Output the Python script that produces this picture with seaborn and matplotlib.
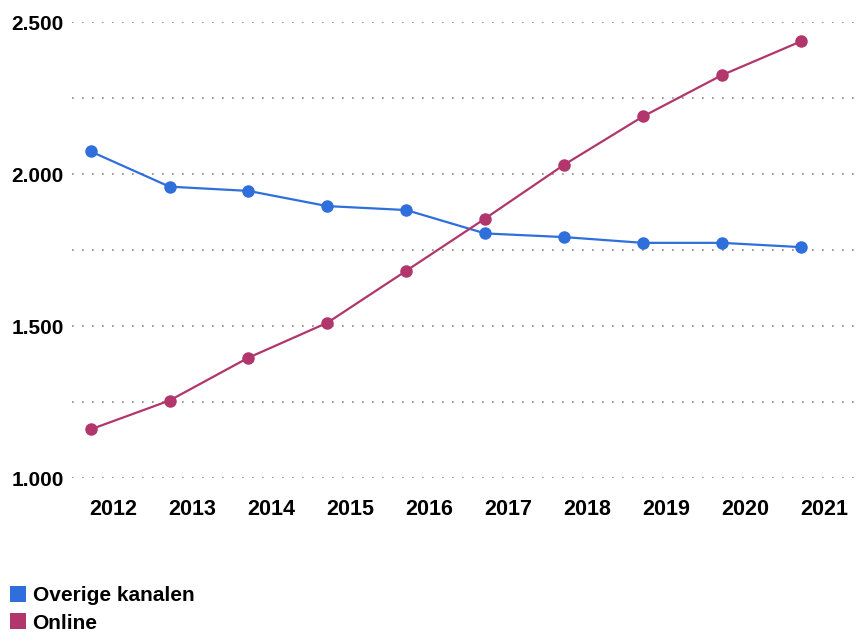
import matplotlib
matplotlib.use("Agg")
import matplotlib.pyplot as plt
import matplotlib.transforms as mtransforms
from matplotlib.lines import Line2D
import pandas as pd
import seaborn as sns

# values
years = [2012, 2013, 2014, 2015, 2016, 2017, 2018, 2019, 2020, 2021]
overige = [2075, 1959, 1945, 1895, 1882, 1805, 1793, 1774, 1774, 1760]
online = [1160, 1255, 1396, 1511, 1682, 1854, 2031, 2190, 2326, 2437]
series_names = ["Overige kanalen", "Online"]
colors = {"Overige kanalen": "#2F6FDB", "Online": "#B0366B"}
y_ticks = [1000, 1250, 1500, 1750, 2000, 2250, 2500]
y_labels = ["1.000", "", "1.500", "", "2.000", "", "2.500"]

df = pd.concat([
    pd.DataFrame({"year": years, "value": overige, "series": series_names[0]}),
    pd.DataFrame({"year": years, "value": online, "series": series_names[1]}),
])

sns.set_style("white")
plt.rcParams["font.family"] = ["Liberation Sans", "DejaVu Sans"]
plt.rcParams["text.color"] = "black"
plt.rcParams["xtick.color"] = "black"
plt.rcParams["ytick.color"] = "black"

fig = plt.figure(figsize=(8.56, 6.37), dpi=100)
ax = fig.add_axes([0.084, 0.2496, 0.916, 0.7154])

sns.lineplot(data=df, x="year", y="value", hue="series", palette=colors,
             marker="o", markersize=9, markeredgewidth=0, linewidth=1.6,
             legend=False, ax=ax)

ax.set_xlim(years[0] - 0.237, years[-1] + 0.70)
ax.set_ylim(1000, 2500)
ax.set_yticks(y_ticks)
ax.set_yticklabels(y_labels)
ax.set_xticks(years)
ax.set_xticklabels([str(y) for y in years])

for y in y_ticks:
    ax.axhline(y, color="#888888", linewidth=1.2, linestyle=(0, (1, 5)), zorder=0)

ax.tick_params(axis="x", length=0, labelsize=15.5, pad=15)
ax.tick_params(axis="y", length=0, labelsize=15, pad=6)
for lbl in ax.get_xticklabels() + ax.get_yticklabels():
    lbl.set_fontweight("bold")

# year labels sit a bit right of their points in the original
shift = mtransforms.ScaledTranslation(23 / 100, 0, fig.dpi_scale_trans)
for lbl in ax.get_xticklabels():
    lbl.set_transform(lbl.get_transform() + shift)

ax.set_xlabel("")
ax.set_ylabel("")
for s in ax.spines.values():
    s.set_visible(False)

handles = [Line2D([], [], marker="s", linestyle="none", markersize=11,
                  markerfacecolor=colors[n], markeredgewidth=0) for n in series_names]
fig.legend(handles, series_names, loc="lower left", bbox_to_anchor=(-0.007, -0.016),
           frameon=False, handletextpad=0.25, labelspacing=0.42, handlelength=0.9,
           borderaxespad=0.3, prop={"weight": "bold", "size": 15})

fig.savefig("out.png", dpi=100)
